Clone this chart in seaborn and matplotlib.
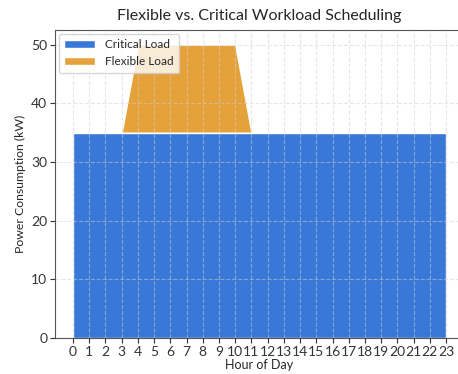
import numpy as np
import matplotlib
matplotlib.use("Agg")
import matplotlib.pyplot as plt
import seaborn as sns

hours = list(range(24))
critical_load = [35] * 24
flexible_load = [0, 0, 0, 0, 15, 15, 15, 15, 15, 15, 15, 0,
                 0, 0, 0, 0, 0, 0, 0, 0, 0, 0, 0, 0]

sns.set_style("ticks")
plt.rcParams['font.family'] = ['Lato', 'DejaVu Sans']

fig = plt.figure(figsize=(4.58, 3.74), dpi=100)
# the right spine sits just past the image edge, as in the source
ax = fig.add_axes([55 / 458, 1 - 338 / 374, 408 / 458, 308 / 374])

ax.stackplot(hours, critical_load, flexible_load,
             labels=['Critical Load', 'Flexible Load'],
             colors=['#3a78d8', '#e6a23a'])
ax.set_xlim(-1.11, 24.04)
ax.set_ylim(0, 52.5)
ax.set_xticks(hours)
ax.set_yticks([0, 10, 20, 30, 40, 50])
ax.grid(True, linestyle='--', color='#d0d0d0', alpha=0.5, linewidth=0.8)
ax.set_axisbelow(False)
ax.tick_params(labelsize=10, length=3.5, colors='#333333', pad=2)
ax.set_xlabel('Hour of Day', fontsize=9, labelpad=1)
ax.set_ylabel('Power Consumption (kW)', fontsize=8.8)
ax.set_title('Flexible vs. Critical Workload Scheduling', fontsize=11.5, pad=7)
for s in ax.spines.values():
    s.set_color('#555555')
ax.spines['right'].set_visible(False)
ax.legend(loc='upper left', fontsize=8.5, frameon=True, framealpha=0.8,
          handlelength=2.6, borderpad=0.5, borderaxespad=0.3)

fig.savefig('out.png', dpi=100)
